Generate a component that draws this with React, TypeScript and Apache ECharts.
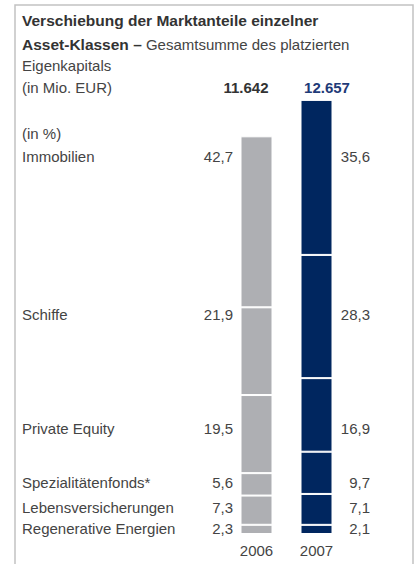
import React, { useEffect, useRef } from "react";
import * as echarts from "echarts";

const years = ["2006", "2007"];
const totals = [11642, 12657];
const totalLabels = ["11.642", "12.657"];
const categories = [
  "Immobilien",
  "Schiffe",
  "Private Equity",
  "Spezialitätenfonds*",
  "Lebensversicherungen",
  "Regenerative Energien",
];
const share2006 = [42.7, 21.9, 19.5, 5.6, 7.3, 2.3];
const share2007 = [35.6, 28.3, 16.9, 9.7, 7.1, 2.1];
const shareLabels2006 = ["42,7", "21,9", "19,5", "5,6", "7,3", "2,3"];
const shareLabels2007 = ["35,6", "28,3", "16,9", "9,7", "7,1", "2,1"];
const titleLines = [
  "Verschiebung der Marktanteile einzelner",
  "Asset-Klassen –",
  " Gesamtsumme des platzierten",
  "Eigenkapitals",
  "(in Mio. EUR)",
  "(in %)",
];

const GRAY = "#aeafb3";
const NAVY = "#00265f";
const FONT = "'Liberation Sans', Arial, sans-serif";
const TXT = "#444";

export default function App() {
  const ref = useRef<HTMLDivElement>(null);

  useEffect(() => {
    if (!ref.current) return;
    const chart = echarts.init(ref.current, null, { renderer: "svg" });

    // stacked from the bottom: reverse category order
    const order = [...categories.keys()].reverse();
    const series = order.map((i) => ({
      type: "bar",
      name: categories[i],
      stack: "total",
      barWidth: 32,
      data: [
        (share2006[i] * totals[0]) / 100,
        (share2007[i] * totals[1]) / 100,
      ],
      itemStyle: {
        color: (p: any) => (p.dataIndex === 0 ? GRAY : NAVY),
        borderColor: "#ffffff",
        borderWidth: 1,
      },
      emphasis: { disabled: true },
    }));

    const labelY = [156, 314, 428, 482, 507, 528];
    const txt = (
      text: string,
      x: number,
      y: number,
      align: string,
      extra: any = {}
    ) => ({
      type: "text",
      x,
      y,
      silent: true,
      style: {
        text,
        fill: TXT,
        fontSize: 15,
        fontFamily: FONT,
        align,
        verticalAlign: "middle",
        ...extra,
      },
    });

    const elements: any[] = [
      {
        type: "polyline",
        silent: true,
        shape: {
          points: [
            [15, 570],
            [15, 5],
            [413, 5],
            [413, 570],
          ],
        },
        style: { stroke: "#c2c2c2", lineWidth: 1.5, fill: null },
      },
      txt(titleLines[0], 22, 20, "left", { fontWeight: "bold", fill: "#333", fontSize: 15.5 }),
      {
        type: "text",
        x: 22,
        y: 44,
        silent: true,
        style: {
          text: `{b|${titleLines[1]}}${titleLines[2]}`,
          fill: TXT,
          fontSize: 15,
          fontFamily: FONT,
          align: "left",
          verticalAlign: "middle",
          rich: {
            b: {
              fontWeight: "bold",
              fill: "#333",
              fontSize: 15.5,
              fontFamily: FONT,
            },
          },
        },
      },
      txt(titleLines[3], 22, 65, "left"),
      txt(titleLines[4], 22, 87, "left"),
      txt(totalLabels[0], 246, 87, "center", { fontWeight: "bold", fill: "#333" }),
      txt(totalLabels[1], 327, 87, "center", { fontWeight: "bold", fill: "#1f3b78" }),
      txt(titleLines[5], 22, 133, "left"),
    ];
    categories.forEach((c, i) => {
      elements.push(txt(c, 22, labelY[i], "left"));
      elements.push(txt(shareLabels2006[i], 233, labelY[i], "right"));
      elements.push(txt(shareLabels2007[i], 370, labelY[i], "right"));
    });

    chart.setOption({
      animation: false,
      grid: { left: 226.5, width: 120, top: 86.8, bottom: 30 },
      xAxis: {
        type: "category",
        data: years,
        axisLine: { show: false },
        axisTick: { show: false },
        axisLabel: {
          color: TXT,
          fontSize: 15,
          fontFamily: FONT,
          margin: 9,
        },
      },
      yAxis: {
        type: "value",
        min: 0,
        max: 13000,
        show: false,
      },
      series,
      graphic: { elements },
    });

    return () => chart.dispose();
  }, []);

  return (
    <div
      ref={ref}
      style={{ position: "absolute", left: 0, top: 0, width: 420, height: 564 }}
    />
  );
}
